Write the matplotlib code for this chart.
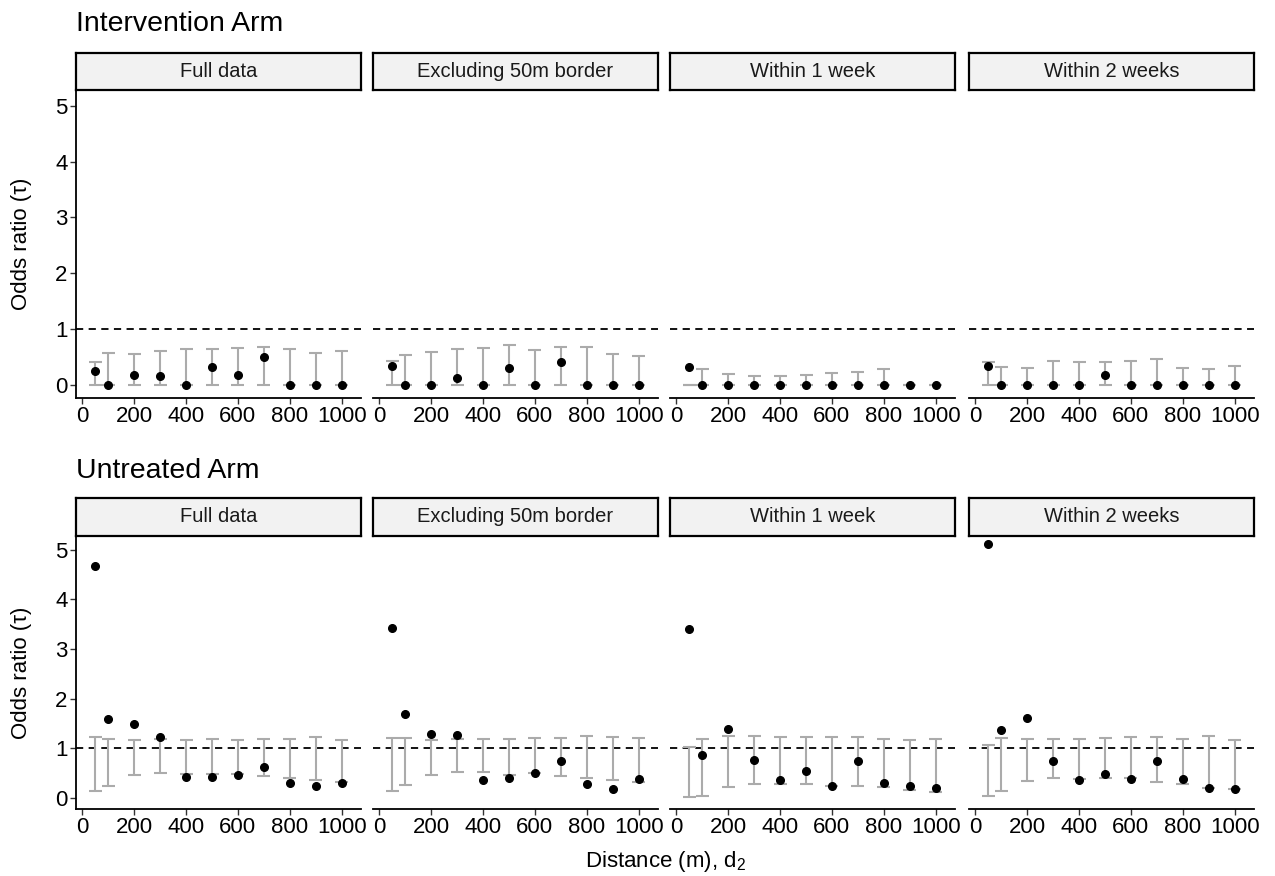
import matplotlib
matplotlib.use("Agg")
import matplotlib.pyplot as plt
import numpy as np

plt.rcParams['font.family'] = ['Liberation Sans', 'DejaVu Sans']

distance = [50, 100, 200, 300, 400, 500, 600, 700, 800, 900, 1000]
facets = ["Full data", "Excluding 50m border", "Within 1 week", "Within 2 weeks"]

# Intervention arm: estimate, lower, upper
int_full_est = [0.25, 0, 0.19, 0.155, 0, 0.32, 0.18, 0.50, 0, 0, 0]
int_full_lo = [0, 0, 0, 0, 0, 0, 0, 0, 0, 0, 0]
int_full_hi = [0.42, 0.58, 0.55, 0.61, 0.64, 0.64, 0.67, 0.68, 0.64, 0.58, 0.61]

int_excl_est = [0.34, 0, 0, 0.12, 0, 0.31, 0, 0.42, 0, 0, 0]
int_excl_lo = [0, 0, 0, 0, 0, 0, 0, 0, 0, 0, 0]
int_excl_hi = [0.43, 0.54, 0.60, 0.64, 0.67, 0.71, 0.62, 0.68, 0.69, 0.56, 0.53]

int_w1_est = [0.32, 0, 0, 0, 0, 0, 0, 0, 0, 0, 0]
int_w1_lo = [0, 0, 0, 0, 0, 0, 0, 0, 0, 0, 0]
int_w1_hi = [0.0, 0.29, 0.20, 0.17, 0.17, 0.18, 0.21, 0.23, 0.29, 0.0, 0.0]

int_w2_est = [0.345, 0, 0, 0, 0, 0.18, 0, 0, 0, 0, 0]
int_w2_lo = [0, 0, 0, 0, 0, 0, 0, 0, 0, 0, 0]
int_w2_hi = [0.41, 0.33, 0.30, 0.43, 0.41, 0.41, 0.43, 0.47, 0.31, 0.28, 0.35]

# Untreated arm
unt_full_est = [4.68, 1.59, 1.49, 1.22, 0.42, 0.42, 0.46, 0.61, 0.29, 0.23, 0.29]
unt_full_lo = [0.14, 0.24, 0.46, 0.49, 0.48, 0.48, 0.48, 0.44, 0.40, 0.355, 0.32]
unt_full_hi = [1.23, 1.18, 1.16, 1.19, 1.16, 1.18, 1.16, 1.19, 1.18, 1.22, 1.16]

unt_excl_est = [3.43, 1.69, 1.28, 1.27, 0.35, 0.40, 0.50, 0.73, 0.27, 0.18, 0.375]
unt_excl_lo = [0.13, 0.25, 0.45, 0.51, 0.51, 0.45, 0.50, 0.44, 0.39, 0.36, 0.31]
unt_excl_hi = [1.21, 1.20, 1.16, 1.18, 1.18, 1.18, 1.20, 1.21, 1.24, 1.23, 1.20]

unt_w1_est = [3.41, 0.86, 1.39, 0.76, 0.355, 0.535, 0.24, 0.74, 0.30, 0.24, 0.20]
unt_w1_lo = [0.01, 0.04, 0.21, 0.27, 0.27, 0.28, 0.24, 0.235, 0.22, 0.16, 0.11]
unt_w1_hi = [1.02, 1.18, 1.24, 1.25, 1.23, 1.22, 1.22, 1.22, 1.19, 1.16, 1.18]

unt_w2_est = [5.11, 1.37, 1.61, 0.74, 0.35, 0.475, 0.375, 0.74, 0.37, 0.19, 0.18]
unt_w2_lo = [0.04, 0.13, 0.33, 0.40, 0.37, 0.39, 0.40, 0.32, 0.27, 0.20, 0.18]
unt_w2_hi = [1.06, 1.20, 1.19, 1.18, 1.19, 1.20, 1.22, 1.22, 1.19, 1.245, 1.16]

arms = [
    ("Intervention Arm", [(int_full_est, int_full_lo, int_full_hi),
                          (int_excl_est, int_excl_lo, int_excl_hi),
                          (int_w1_est, int_w1_lo, int_w1_hi),
                          (int_w2_est, int_w2_lo, int_w2_hi)]),
    ("Untreated Arm", [(unt_full_est, unt_full_lo, unt_full_hi),
                       (unt_excl_est, unt_excl_lo, unt_excl_hi),
                       (unt_w1_est, unt_w1_lo, unt_w1_hi),
                       (unt_w2_est, unt_w2_lo, unt_w2_hi)]),
]

W, H = 1275, 876
fig = plt.figure(figsize=(W / 100, H / 100), dpi=100)

def box(x0, y0, x1, y1):
    # pixel box (top-left origin) -> figure fraction rect
    return [x0 / W, 1 - y1 / H, (x1 - x0) / W, (y1 - y0) / H]

lefts = [76, 373, 670, 969]
pw = 285
rows = [  # (title_y, strip_top, panel_top, panel_bottom)
    (24, 53, 90, 398),
    (471, 498, 536, 809),
]
errcol = "#ABABAB"
cap = 25

for (title, panels), (ty, st, pt, pb) in zip(arms, rows):
    fig.text(76 / W, 1 - ty / H, title, fontsize=20.5, ha="left", va="center")
    fig.text(22 / W, 1 - (pt + pb) / 2 / H, "Odds ratio (\u03c4)", fontsize=16,
             rotation=90, ha="center", va="center")
    for j, (est, lo, hi) in enumerate(panels):
        ax = fig.add_axes(box(lefts[j], pt, lefts[j] + pw, pb))
        x = np.array(distance)
        ax.axhline(1, color="black", lw=1.3, dashes=(4, 3), zorder=1)
        ax.vlines(x, lo, hi, color=errcol, lw=1.5, zorder=2)
        ax.hlines(lo, x - cap, x + cap, color=errcol, lw=1.5, zorder=2)
        ax.hlines(hi, x - cap, x + cap, color=errcol, lw=1.5, zorder=2)
        ax.plot(x, est, "o", color="black", ms=5.5, zorder=3)
        ax.set_xlim(-25, 1075)
        ax.set_ylim(-0.23, 5.28)
        ax.set_xticks([0, 200, 400, 600, 800, 1000])
        ax.set_yticks([0, 1, 2, 3, 4, 5])
        for s in ["top", "right"]:
            ax.spines[s].set_visible(False)
        ax.spines["bottom"].set_linewidth(1.3)
        ax.tick_params(axis="x", labelsize=16, length=4, width=1, color="#333333", pad=1.5)
        if j == 0:
            ax.spines["left"].set_linewidth(1.3)
            ax.tick_params(axis="y", labelsize=16, length=4, width=1, color="#333333", pad=2)
        else:
            ax.spines["left"].set_visible(False)
            ax.tick_params(axis="y", left=False, labelleft=False)
        # strip
        sax = fig.add_axes(box(lefts[j], st, lefts[j] + pw, pt))
        sax.set_facecolor("#F2F2F2")
        sax.set_xticks([])
        sax.set_yticks([])
        for s in sax.spines.values():
            s.set_linewidth(1.6)
            s.set_color("black")
        sax.text(0.5, 0.5, facets[j], ha="center", va="center", fontsize=14.5,
                 color="#1A1A1A", transform=sax.transAxes)

fig.text(665 / W, 1 - 861 / H, r"Distance (m), d$_\mathregular{2}$", fontsize=16,
         ha="center", va="center")

fig.savefig("out.png", dpi=100)
